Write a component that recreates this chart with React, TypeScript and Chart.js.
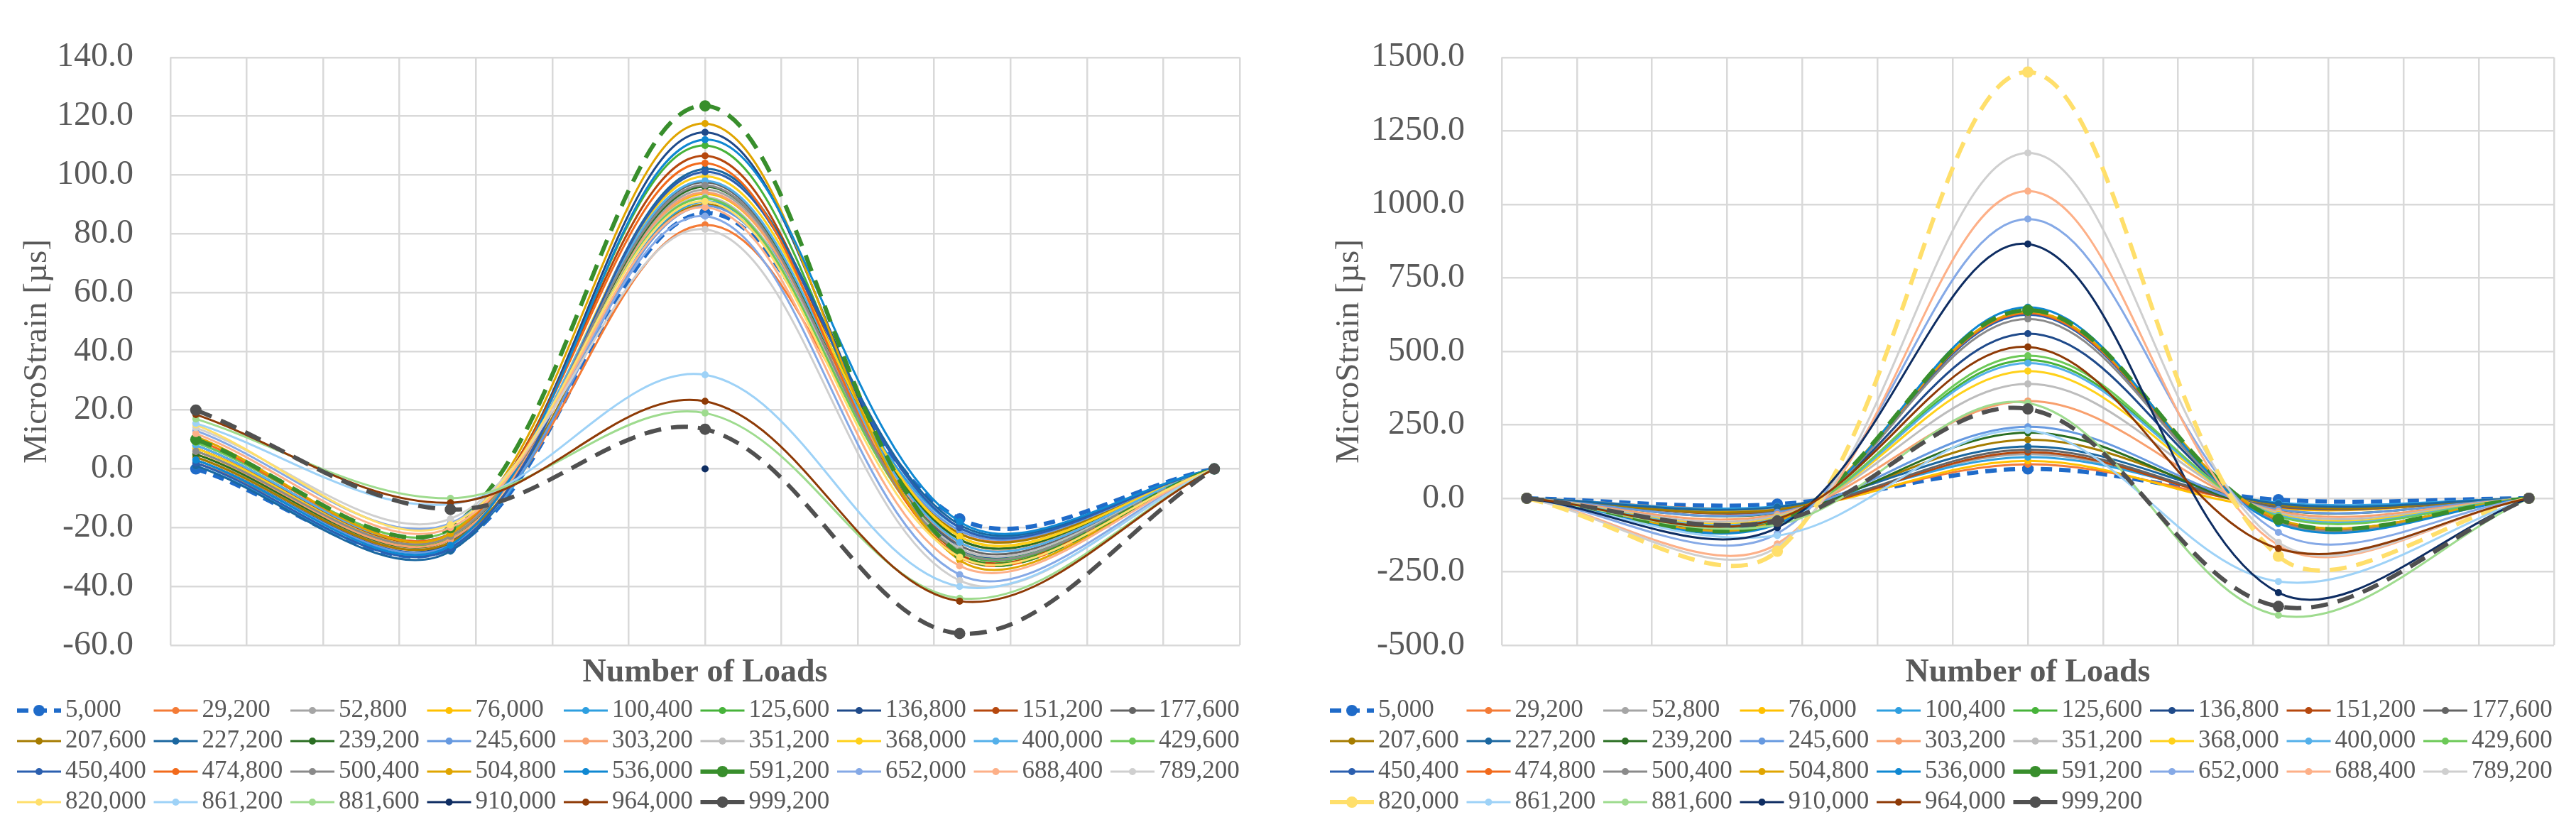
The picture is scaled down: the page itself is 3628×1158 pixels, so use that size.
import React, { useEffect, useRef } from 'react';
import { Chart, registerables } from 'chart.js';

Chart.register(...registerables);

// ---------- data ----------
const loadLabels: string[] = [
  '5,000', '29,200', '52,800', '76,000', '100,400', '125,600', '136,800', '151,200', '177,600',
  '207,600', '227,200', '239,200', '245,600', '303,200', '351,200', '368,000', '400,000', '429,600',
  '450,400', '474,800', '500,400', '504,800', '536,000', '591,200', '652,000', '688,400', '789,200',
  '820,000', '861,200', '881,600', '910,000', '964,000', '999,200',
];

const seriesColors: string[] = [
  '#1F6BC9', '#F47B36', '#A5A5A5', '#FFC000', '#2E9FE0', '#47B33A', '#1F4A8A', '#B6480E', '#646464',
  '#A67C00', '#1B67A0', '#2A6E22', '#6699E0', '#F8A06E', '#BDBDBD', '#FFD11A', '#54B0EA', '#6CC957',
  '#2B5FAF', '#F26A1B', '#8A8A8A', '#E0A500', '#0F88D2', '#388E2C', '#85A9E6', '#FDB088', '#CFCFCF',
  '#FFDF6B', '#9ED2F7', '#9EDB8E', '#0E2D62', '#8E3A06', '#505050',
];

// gauge reading positions along the (unlabelled) load axis
const readingPositions: number[] = [1, 11, 21, 31, 41];

// left chart values (µs)
const leftValues: (number | null)[][] = [
  [0, -27, 87, -17, 0],
  [2, -25, 83, -22, 0],
  [4, -24, 95, -24, 0],
  [5, -23, 93.5, -23, 0],
  [1, -27, 91, -20, 0],
  [6, -23, 110, -28, 0],
  [3, -25, 114.5, -27, 0],
  [7, -22, 106.5, -29, 0],
  [8, -22, 97.5, -26, 0],
  [4, -25, 90, -22, 0],
  [1, -28, 102, -19, 0],
  [5, -24, 96, -24, 0],
  [3, -26, 89.5, -21, 0],
  [6, -24, 94, -25, 0],
  [9, -21, 92.5, -27, 0],
  [7, -23, 99.5, -23, 0],
  [8, -22, 98, -25, 0],
  [9, -21, 92, -28, 0],
  [2, -27, 101, -20, 0],
  [10, -22, 104, -30, 0],
  [6, -23, 96.5, -28, 0],
  [11, -22, 117.5, -31, 0],
  [3, -26, 112, -18, 0],
  [10, -20, 123.5, -29, 0],
  [13, -18.5, 86, -36, 0],
  [12, -20, 89, -33, 0],
  [14, -17, 81.5, -38, 0],
  [15, -19, 91, -30, 0],
  [15.5, -12, 32, -40, 0],
  [17, -10, 19, -44, 0],
  [null, null, 0, null, null],
  [18.5, -11.5, 23, -45, 0],
  [20, -13.8, 13.5, -56, 0],
];

// right chart values (µs)
const rightValues: (number | null)[][] = [
  [0, -20, 100, -5, 0],
  [0, -30, 116, -20, 0],
  [0, -35, 150, -25, 0],
  [0, -40, 127, -35, 0],
  [0, -28, 140, -15, 0],
  [0, -70, 470, -60, 0],
  [0, -75, 560, -75, 0],
  [0, -45, 157, -30, 0],
  [0, -42, 165, -28, 0],
  [0, -38, 199, -22, 0],
  [0, -30, 176, -18, 0],
  [0, -50, 223, -40, 0],
  [0, -48, 243, -38, 0],
  [0, -55, 331, -45, 0],
  [0, -60, 389, -50, 0],
  [0, -65, 433, -55, 0],
  [0, -68, 460, -58, 0],
  [0, -72, 485, -62, 0],
  [0, -85, 625, -80, 0],
  [0, -80, 630, -78, 0],
  [0, -82, 610, -82, 0],
  [0, -78, 635, -70, 0],
  [0, -88, 650, -86, 0],
  [0, -80, 640, -72, 0],
  [0, -120, 950, -116, 0],
  [0, -155, 1045, -160, 0],
  [0, -165, 1175, -150, 0],
  [0, -180, 1450, -197, 0],
  [0, -127, 231, -283, 0],
  [0, -90, 324, -398, 0],
  [0, -100, 865, -321, 0],
  [0, -70, 515, -171, 0],
  [0, -78, 304, -368, 0],
];

const leftDashed: string[] = ['5,000', '591,200', '999,200'];
const rightDashed: string[] = ['5,000', '591,200', '820,000', '999,200'];

const leftYRange: number[] = [-60, 140, 20];
const rightYRange: number[] = [-500, 1500, 250];

// ---------- styling ----------
const FONT = "'Liberation Serif', 'Times New Roman', serif";
const TEXT = '#595959';
const GRID = '#D9D9D9';

function buildDatasets(values: (number | null)[][], dashed: string[]) {
  return loadLabels.map((label, i) => {
    const isDashed = dashed.includes(label);
    const color = seriesColors[i];
    return {
      label,
      data: readingPositions.map((x, j) => ({ x, y: values[i][j] })),
      borderColor: color,
      backgroundColor: color,
      pointBackgroundColor: color,
      pointBorderColor: color,
      borderWidth: isDashed ? 6 : 3,
      borderDash: isDashed ? (label === '5,000' ? [16, 10] : [24, 14]) : [],
      pointRadius: isDashed ? 8 : 5,
      pointBorderWidth: 0,
      pointHoverRadius: 5,
      tension: 0.35,
      fill: false,
      spanGaps: false,
      order: loadLabels.length - i,
    };
  });
}

const gridLegend = {
  id: 'gridLegend',
  afterDraw(chart: any, _args: any, opts: any) {
    const ctx: CanvasRenderingContext2D = chart.ctx;
    const { startX, colW, rowY, rowH, cols, lineLen, textGap } = opts;
    chart.data.datasets.forEach((ds: any, i: number) => {
      const col = i % cols;
      const row = Math.floor(i / cols);
      const x = startX + col * colW;
      const y = rowY + row * rowH;
      ctx.save();
      ctx.strokeStyle = ds.borderColor;
      ctx.lineWidth = ds.borderWidth;
      ctx.setLineDash(ds.borderDash || []);
      ctx.beginPath();
      ctx.moveTo(x, y);
      ctx.lineTo(x + lineLen, y);
      ctx.stroke();
      ctx.setLineDash([]);
      ctx.fillStyle = ds.pointBackgroundColor;
      ctx.beginPath();
      ctx.arc(x + lineLen / 2, y, ds.pointRadius, 0, Math.PI * 2);
      ctx.fill();
      ctx.fillStyle = TEXT;
      ctx.font = `35px ${FONT}`;
      ctx.textBaseline = 'middle';
      ctx.textAlign = 'left';
      ctx.fillText(ds.label, x + textGap, y);
      ctx.restore();
    });
  },
};

function makeConfig(values: (number | null)[][], dashed: string[], yRange: number[], cfg: any): any {
  return {
    type: 'line',
    data: { datasets: buildDatasets(values, dashed) },
    plugins: [gridLegend],
    options: {
      responsive: false,
      animation: false,
      events: [],
      layout: { padding: { left: 0, right: cfg.padRight, top: 47, bottom: 182 } },
      plugins: {
        legend: { display: false },
        tooltip: { enabled: false },
        gridLegend: {
          startX: cfg.legendX,
          colW: 192.5,
          rowY: 1001,
          rowH: 43,
          cols: 9,
          lineLen: 62,
          textGap: 68,
        },
      },
      scales: {
        x: {
          type: 'linear',
          min: 0,
          max: 42,
          ticks: { display: false, stepSize: 3 },
          grid: { color: GRID, lineWidth: 2.5, drawTicks: false },
          border: { display: false },
          title: {
            display: true,
            text: 'Number of Loads',
            color: TEXT,
            font: { family: FONT, size: 46, weight: 'bold' },
            padding: 0,
          },
          afterFit: (s: any) => { s.height = 67; },
        },
        y: {
          type: 'linear',
          min: yRange[0],
          max: yRange[1],
          ticks: {
            stepSize: yRange[2],
            callback: (v: any) => Number(v).toFixed(1),
            color: TEXT,
            font: { family: FONT, size: 48 },
            padding: 52,
          },
          grid: { color: GRID, lineWidth: 2.5, drawTicks: false },
          border: { display: false },
          title: {
            display: true,
            text: 'MicroStrain [µs]',
            color: TEXT,
            font: { family: FONT, size: 47 },
            padding: { top: cfg.titlePad, bottom: 0 },
          },
          afterFit: (s: any) => { s.width = cfg.yWidth; },
        },
      },
    },
  };
}

function StrainChart(props: { width: number; left: number; config: any }) {
  const ref = useRef<HTMLCanvasElement | null>(null);
  useEffect(() => {
    if (!ref.current) return;
    const chart = new Chart(ref.current, props.config);
    return () => chart.destroy();
  }, []);
  return (
    <canvas
      ref={ref}
      width={props.width}
      height={1158}
      style={{ position: 'absolute', left: props.left, top: 0, width: props.width, height: 1158 }}
    />
  );
}

export default function App() {
  useEffect(() => {
    document.body.style.margin = '0';
    document.body.style.overflow = 'hidden';
    document.body.style.background = '#ffffff';
  }, []);
  const leftCfg = makeConfig(leftValues, leftDashed, leftYRange, {
    padRight: 22, yWidth: 240, titlePad: 24, legendX: 24,
  });
  const rightCfg = makeConfig(rightValues, rightDashed, rightYRange, {
    padRight: 31, yWidth: 260, titlePad: 17, legendX: 18,
  });
  return (
    <div style={{ position: 'relative', width: 3628, height: 1158, background: '#fff', overflow: 'hidden' }}>
      <StrainChart width={1768} left={0} config={leftCfg} />
      <StrainChart width={1773} left={1855} config={rightCfg} />
    </div>
  );
}
